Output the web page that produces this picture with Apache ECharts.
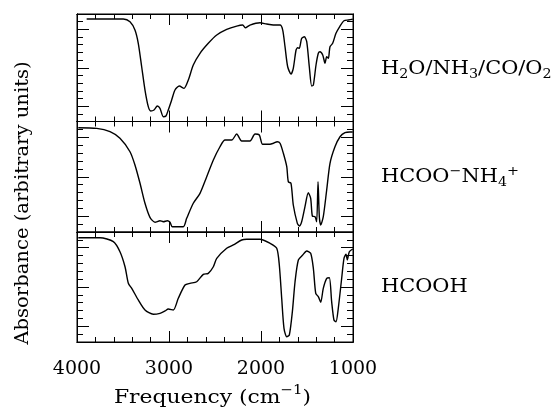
<!DOCTYPE html>
<html><head><meta charset="utf-8">
<script src="https://cdn.jsdelivr.net/npm/echarts@6/dist/echarts.min.js"></script>
<style>html,body{margin:0;padding:0;background:#fff}#c{width:559px;height:409px}</style>
</head><body><div id="c"></div>
<script>
// Panel 1: H2O/NH3/CO/O2
const mixFreq = [3895,3497,3424,3370,3334,3297,3261,3225,3199,3163,3127,3098,3062,3033,3008,2971,2935,2888,2837,2790,2736,2663,2573,2481,2373,2264,2199,2171,2120,2011,1938,1866,1793,1764,1739,1710,1674,1649,1619,1601,1584,1558,1529,1503,1475,1449,1431,1402,1377,1359,1329,1304,1286,1268,1250,1221,1185,1141,1098,1051,1003];
const mixAbs = [11.35,11.35,10.99,9.91,8.18,5.13,2.10,-0.07,-0.63,-0.50,0.02,-0.28,-1.38,-1.28,-0.50,0.80,2.10,2.62,2.32,3.40,5.36,6.88,8.18,9.26,10.0,10.43,10.56,10.21,10.56,10.86,10.69,10.56,10.56,9.91,7.74,5.13,4.18,4.93,7.31,7.61,7.53,8.83,9.04,8.39,5.13,2.62,2.75,5.36,6.88,7.09,6.66,5.58,6.44,6.23,7.74,8.18,9.48,10.43,11.12,11.22,11.31];
// Panel 2: HCOO- NH4+
const saltFreq = [3986,3786,3641,3533,3424,3370,3315,3261,3207,3152,3098,3062,3018,2989,2964,2845,2808,2736,2663,2590,2518,2446,2391,2318,2264,2210,2120,2065,2018,1982,1902,1866,1823,1793,1757,1720,1703,1674,1649,1605,1584,1558,1522,1486,1460,1442,1413,1395,1380,1366,1351,1323,1286,1250,1196,1141,1087,1033,1003];
const saltAbs = [11.21,11.13,10.71,9.87,8.17,6.49,4.17,1.64,-0.14,-0.77,-0.57,-0.70,-0.57,-0.77,-1.33,-1.33,-0.27,1.64,2.90,5.00,7.12,8.80,9.65,9.65,10.41,9.53,9.53,10.41,10.29,9.11,9.11,9.24,9.44,9.24,7.97,6.27,4.37,4.17,1.42,-0.90,-1.24,-0.70,1.21,2.98,2.27,0.03,-0.06,-0.70,4.37,-0.06,-1.11,-0.06,3.32,6.70,8.80,10.07,10.58,10.67,10.67];
// Panel 3: HCOOH
const acidFreq = [3986,3750,3605,3533,3478,3442,3405,3334,3261,3171,3098,3043,3008,2953,2899,2826,2772,2699,2627,2573,2518,2481,2373,2301,2210,2155,2011,1902,1829,1801,1775,1750,1720,1692,1659,1630,1594,1547,1503,1460,1431,1405,1377,1351,1323,1286,1257,1232,1207,1185,1160,1123,1098,1076,1062,1040,1003];
const acidAbs = [11.27,11.27,10.77,9.49,7.58,5.47,4.83,3.35,2.07,1.53,1.65,1.95,2.20,2.07,3.56,5.25,5.47,5.67,6.61,6.74,7.58,8.65,9.93,10.35,10.98,11.07,11.07,10.56,9.93,7.80,3.56,-0.26,-1.33,-1.11,1.86,5.67,8.44,9.07,9.58,9.29,7.38,4.19,3.77,3.05,4.83,6.11,6.18,3.13,0.80,0.58,2.29,6.11,8.65,9.16,8.44,9.49,9.84];

const xTickLabels = [4000, 3000, 2000, 1000];
const xMinorTicks = [1200,1400,1600,1800,2200,2400,2600,2800,3200,3400,3600,3800];
const xMajorTicks = [2000, 3000];
const yMinorTicks = [-1,1,2,3,4,6,7,8,9,11];
const yMajorTicks = [0, 5, 10];
const panelNames = ['H2O/NH3/CO/O2', 'HCOO-NH4+', 'HCOOH'];

const FONT = 'DejaVu Serif';
const grids = [
  {left: 77, width: 276, top: 14, height: 107.5},
  {left: 77, width: 276, top: 121.5, height: 110.5},
  {left: 77, width: 276, top: 232, height: 110}
].map(g => Object.assign({show: true, borderColor: '#000', borderWidth: 1, outerBoundsMode: 'none', containLabel: false}, g));

const xAxes = [], yAxes = [];
grids.forEach((g, i) => {
  [['bottom', xMinorTicks, 5], ['bottom', xMajorTicks, 11], ['top', xMinorTicks, 5], ['top', xMajorTicks, 11]].forEach(([pos, ticks, len], k) => {
    const showLab = (i === 2 && pos === 'bottom' && k === 1);
    xAxes.push({
      type: 'value', gridIndex: i, position: pos, min: 1000, max: 4000, inverse: true,
      axisLine: {show: true, onZero: false, lineStyle: {color: '#000', width: 1}},
      axisTick: {show: true, inside: true, length: len, customValues: ticks, lineStyle: {color: '#000', width: 1}},
      axisLabel: showLab ? {show: true, customValues: xTickLabels, margin: 18, color: '#000', fontSize: 19, fontFamily: FONT,
        formatter: v => String(v)} : {show: false},
      splitLine: {show: false}
    });
  });
  [['left', yMinorTicks, 6], ['left', yMajorTicks, 12], ['right', yMinorTicks, 6], ['right', yMajorTicks, 12]].forEach(([pos, ticks, len]) => {
    yAxes.push({
      type: 'value', gridIndex: i, position: pos, min: -2, max: 12,
      axisLine: {show: true, onZero: false, lineStyle: {color: '#000', width: 1}},
      axisTick: {show: true, inside: true, length: len, customValues: ticks, lineStyle: {color: '#000', width: 1}},
      axisLabel: {show: false},
      splitLine: {show: false}
    });
  });
});

const specs = [[mixFreq, mixAbs], [saltFreq, saltAbs], [acidFreq, acidAbs]];
const series = specs.map(([f, a], i) => ({
  type: 'line', xAxisIndex: 4 * i, yAxisIndex: 4 * i,
  data: f.map((v, j) => [v, a[j]]),
  showSymbol: false, symbol: 'none', smooth: 0.25,
  lineStyle: {color: '#000', width: 1.4}, silent: true
}));

const rich = {
  m: {fontSize: 19, fontFamily: FONT, color: '#000', lineHeight: 24},
  sub: {fontSize: 13, fontFamily: FONT, color: '#000', lineHeight: 12, verticalAlign: 'bottom'},
  sup: {fontSize: 13, fontFamily: FONT, color: '#000', lineHeight: 12, verticalAlign: 'top'}
};
const richF = {
  m: {fontSize: 19, fontFamily: FONT, color: '#000', lineHeight: 28},
  sup: {fontSize: 13, fontFamily: FONT, color: '#000', lineHeight: 14, verticalAlign: 'top'}
};
const labelTexts = [
  '{m|H}{sub|2}{m|O/NH}{sub|3}{m|/CO/O}{sub|2}',
  '{m|HCOO}{sup|−}{m|NH}{sub|4}{sup|+}',
  '{m|HCOOH}'
];
const labelY = [69, 177, 287.5];

const graphic = labelTexts.map((t, i) => ({
  type: 'text', x: 381, y: labelY[i], scaleX: 1.1,
  style: {text: t, rich: rich, align: 'left', verticalAlign: 'middle'}
}));
graphic.push({
  type: 'text', x: 212.5, y: 398, scaleX: 1.15,
  style: {text: '{m|Frequency (cm}{sup|−1}{m|)}', rich: richF, align: 'center', verticalAlign: 'middle'}
});
graphic.push({
  type: 'text', x: 23, y: 203, rotation: Math.PI / 2, scaleX: 1.03,
  style: {text: 'Absorbance (arbitrary units)', fontSize: 19, fontFamily: FONT, fill: '#000', align: 'center', verticalAlign: 'middle'}
});

const chart = echarts.init(document.getElementById('c'), null, {renderer: 'canvas'});
chart.setOption({
  animation: false,
  backgroundColor: '#fff',
  grid: grids,
  xAxis: xAxes,
  yAxis: yAxes,
  series: series,
  graphic: graphic
});
</script></body></html>
